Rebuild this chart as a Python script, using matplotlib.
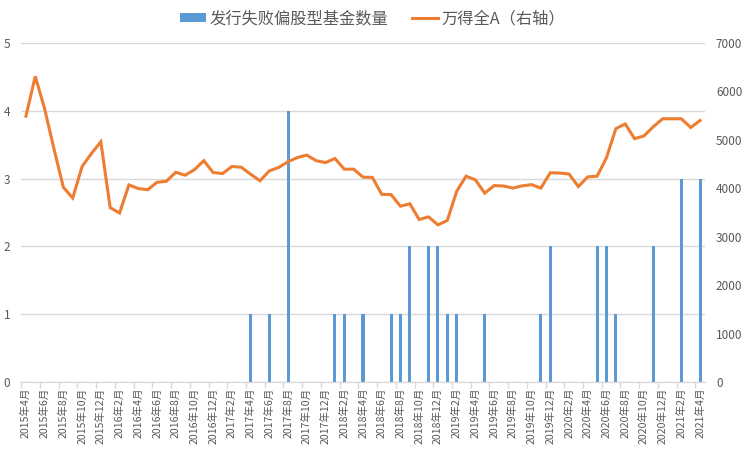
import matplotlib
matplotlib.use("Agg")
import matplotlib.pyplot as plt
from matplotlib.patches import Patch
from matplotlib.lines import Line2D

plt.rcParams['font.family'] = ['Noto Sans CJK SC', 'DejaVu Sans']

# months from 2015-04 to 2021-04
months = []
y, m = 2015, 4
while (y, m) <= (2021, 4):
    months.append(f"{y}年{m}月")
    m += 1
    if m > 12:
        y, m = y + 1, 1

# failed equity fund launches per month (non-zero months only)
failed_months = ["2017年4月", "2017年6月", "2017年8月", "2018年1月", "2018年2月",
                 "2018年4月", "2018年7月", "2018年8月", "2018年9月", "2018年11月",
                 "2018年12月", "2019年1月", "2019年2月", "2019年5月", "2019年11月",
                 "2019年12月", "2020年5月", "2020年6月", "2020年7月", "2020年11月",
                 "2021年2月", "2021年4月"]
failed_counts = [1, 1, 4, 1, 1,
                 1, 1, 1, 2, 2,
                 2, 1, 1, 1, 1,
                 2, 2, 2, 1, 2,
                 3, 3]

# Wind All A index (right axis)
wind_a = [5490, 6310, 5640, 4810, 4020, 3800, 4450, 4720, 4960, 3600,
          3490, 4070, 3995, 3970, 4125, 4145, 4330, 4270, 4385, 4570,
          4325, 4305, 4450, 4435, 4290, 4155, 4360, 4430, 4550, 4635,
          4685, 4570, 4530, 4615, 4395, 4395, 4230, 4225, 3875, 3870,
          3630, 3680, 3355, 3410, 3245, 3335, 3935, 4250, 4175, 3900,
          4055, 4048, 4005, 4050, 4075, 4005, 4320, 4315, 4295, 4035,
          4235, 4250, 4630, 5230, 5330, 5025, 5080, 5270, 5435, 5435,
          5435, 5255, 5400]

counts = [0] * len(months)
for mo, c in zip(failed_months, failed_counts):
    counts[months.index(mo)] = c

x = list(range(len(months)))
grey = "#595959"
grid = "#D9D9D9"

fig = plt.figure(figsize=(7.45, 4.55), dpi=100)
ax = fig.add_axes([0.0285, 0.1604, 0.9175, 0.7451])
ax2 = ax.twinx()

ax.bar(x, counts, width=0.33, color="#5B9BD5", zorder=2)
ax2.plot(x, wind_a, color="#ED7D31", linewidth=2.2, solid_joinstyle="miter")

ax.set_xlim(-0.5, len(months) - 0.5)
ax.set_ylim(0, 5)
ax2.set_ylim(0, 7000)
ax.set_yticks(range(0, 6))
ax2.set_yticks(range(0, 7001, 1000))
ax.yaxis.grid(True, color=grid, linewidth=1)
ax.set_axisbelow(True)

ax.set_xticks(x[::2])
ax.set_xticklabels(months[::2], rotation=90, fontsize=7.6, color=grey)
ax.set_xticks([i - 0.5 for i in x[::2]], minor=True)
ax.tick_params(axis="x", which="major", length=0, pad=4)
ax.tick_params(axis="x", which="minor", length=4, color=grid, width=1)
ax.tick_params(axis="y", length=0, labelsize=8.5, labelcolor=grey, pad=8)
ax2.tick_params(axis="y", length=0, labelsize=8.5, labelcolor=grey, pad=8)

for a in (ax, ax2):
    for side in ("top", "left", "right"):
        a.spines[side].set_visible(False)
    a.spines["bottom"].set_color(grid)

handles = [Patch(facecolor="#5B9BD5", edgecolor="none"),
           Line2D([0], [0], color="#ED7D31", linewidth=2.2)]
labels = ["发行失败偏股型基金数量", "万得全A（右轴）"]
fig.legend(handles, labels, loc="upper center", bbox_to_anchor=(0.5, 1.01),
           ncol=2, frameon=False, fontsize=11.7, labelcolor=grey,
           handlelength=1.6, handleheight=0.5, columnspacing=1.5, handletextpad=0.2)

fig.savefig("out.png", dpi=100)
